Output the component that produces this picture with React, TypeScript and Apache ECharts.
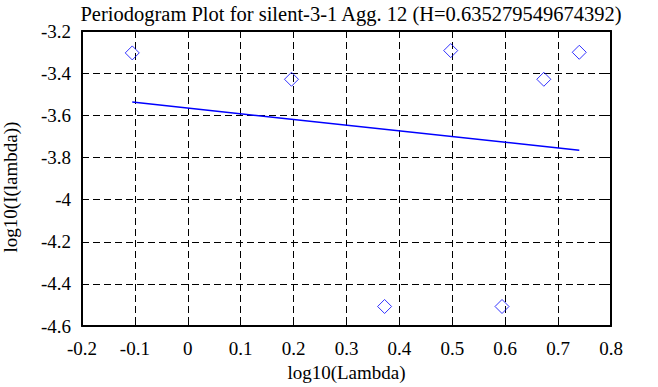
import React, { useEffect, useRef } from "react";
import * as echarts from "echarts";

const titleText = "Periodogram Plot for silent-3-1 Agg. 12 (H=0.635279549674392)";
const xName = "log10(Lambda)";
const yName = "log10(I(lambda))";

const logLambda = [-0.105, 0.196, 0.372, 0.497, 0.594, 0.673, 0.740];
const logPeriodogram = [-3.304, -3.429, -4.507, -3.293, -4.507, -3.429, -3.301];

const fitX = [-0.105, 0.740];
const fitY = [-3.537, -3.766];

const xMin = -0.2, xMax = 0.8, xStep = 0.1;
const yMin = -4.6, yMax = -3.2, yStep = 0.2;

const FONT = "Liberation Serif";

export default function App() {
  const ref = useRef<HTMLDivElement>(null);
  useEffect(() => {
    if (!ref.current) return;
    const chart = echarts.init(ref.current, undefined, { renderer: "svg" });
    const tick = { show: true, inside: true, length: 6, lineStyle: { color: "#000", width: 1 } };
    const axisLine = { show: true, onZero: false, lineStyle: { color: "#000", width: 2 } };
    const split = { show: true, lineStyle: { color: "#000", width: 1, type: [7, 4] as any } };
    const label = { color: "#000", fontFamily: FONT, fontSize: 19 };
    chart.setOption({
      animation: false,
      backgroundColor: "#fff",
      textStyle: { fontFamily: FONT },
      title: {
        text: titleText,
        left: 346,
        textAlign: "center",
        top: -2,
        textStyle: { color: "#000", fontFamily: FONT, fontSize: 20.5, fontWeight: "normal" },
      },
      grid: { left: 82, right: 47, top: 31, bottom: 56, containLabel: false },
      graphic: [
        {
          type: "text",
          x: 10,
          y: 187,
          rotation: Math.PI / 2,
          style: {
            text: yName,
            fill: "#000",
            font: "19px Liberation Serif",
            align: "center",
            verticalAlign: "middle",
          },
        },
      ],
      xAxis: [
        {
          type: "value", min: xMin, max: xMax, interval: xStep, position: "bottom",
          name: xName, nameLocation: "middle", nameGap: 36,
          nameTextStyle: { color: "#000", fontFamily: FONT, fontSize: 19 },
          axisLine, axisTick: tick, splitLine: split,
          axisLabel: { ...label, margin: 13 },
        },
        {
          type: "value", min: xMin, max: xMax, interval: xStep, position: "top",
          axisLine, axisTick: tick, splitLine: { show: false }, axisLabel: { show: false },
        },
      ],
      yAxis: [
        {
          type: "value", min: yMin, max: yMax, interval: yStep, position: "left",
          axisLine, axisTick: tick, splitLine: split,
          axisLabel: { ...label, margin: 11 },
        },
        {
          type: "value", min: yMin, max: yMax, interval: yStep, position: "right",
          axisLine, axisTick: tick, splitLine: { show: false }, axisLabel: { show: false },
        },
      ],
      series: [
        {
          type: "scatter",
          data: logLambda.map((x, i) => [x, logPeriodogram[i]]),
          symbol: "diamond",
          symbolSize: 14,
          itemStyle: { color: "transparent", borderColor: "#0000ff", borderWidth: 1 },
          z: 3,
        },
        {
          type: "line",
          data: fitX.map((x, i) => [x, fitY[i]]),
          showSymbol: false,
          symbol: "none",
          lineStyle: { color: "#0000ff", width: 1.5 },
          z: 3,
        },
      ],
    });
    return () => chart.dispose();
  }, []);
  return (
    <div
      ref={ref}
      style={{ position: "fixed", left: 0, top: 0, width: 658, height: 387, background: "#fff" }}
    />
  );
}
